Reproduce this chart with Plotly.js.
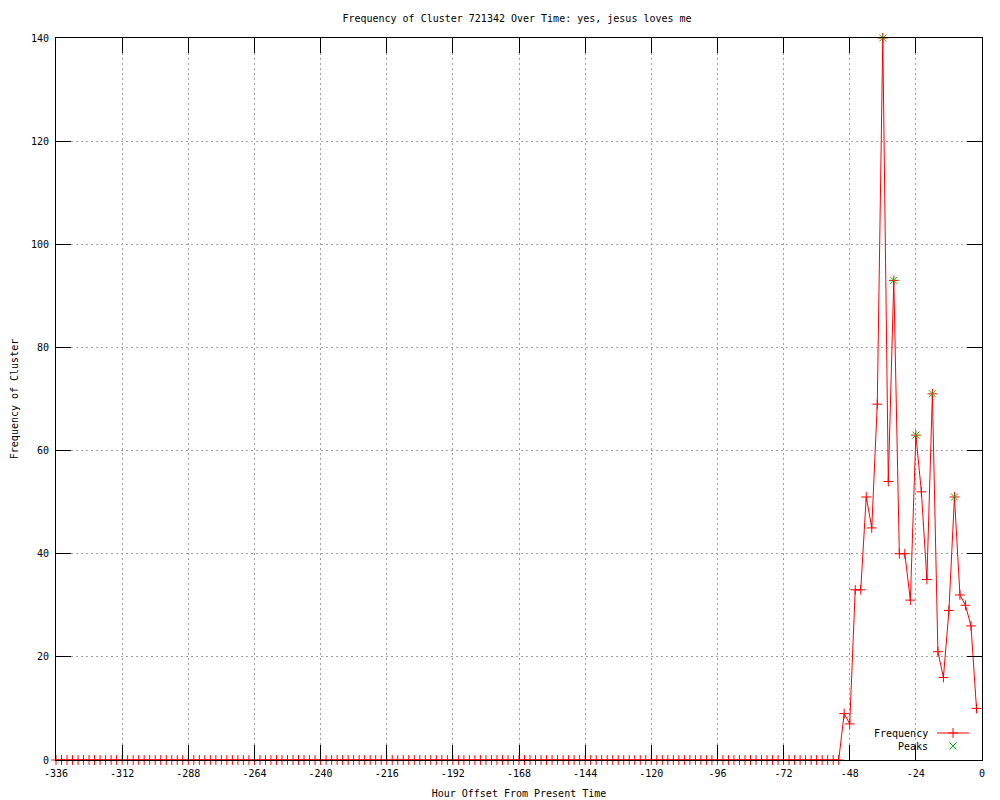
<!DOCTYPE html>
<html>
<head>
<meta charset="utf-8">
<script src="https://cdn.plot.ly/plotly-3.0.1.min.js"></script>
<style>
html,body{margin:0;padding:0;background:#fff;}
#chart{width:1000px;height:800px;}
</style>
</head>
<body>
<div id="chart"></div>
<script>
// Hour offsets (every 2 hours) and cluster frequency
var hours = [
 -336,-334,-332,-330,-328,-326,-324,-322,-320,-318,-316,-314,-312,-310,-308,-306,-304,-302,-300,-298,
 -296,-294,-292,-290,-288,-286,-284,-282,-280,-278,-276,-274,-272,-270,-268,-266,-264,-262,-260,-258,
 -256,-254,-252,-250,-248,-246,-244,-242,-240,-238,-236,-234,-232,-230,-228,-226,-224,-222,-220,-218,
 -216,-214,-212,-210,-208,-206,-204,-202,-200,-198,-196,-194,-192,-190,-188,-186,-184,-182,-180,-178,
 -176,-174,-172,-170,-168,-166,-164,-162,-160,-158,-156,-154,-152,-150,-148,-146,-144,-142,-140,-138,
 -136,-134,-132,-130,-128,-126,-124,-122,-120,-118,-116,-114,-112,-110,-108,-106,-104,-102,-100,-98,
 -96,-94,-92,-90,-88,-86,-84,-82,-80,-78,-76,-74,-72,-70,-68,-66,-64,-62,-60,-58,
 -56,-54,-52,-50,-48,-46,-44,-42,-40,-38,-36,-34,-32,-30,-28,-26,-24,-22,-20,-18,
 -16,-14,-12,-10,-8,-6,-4,-2
];
var frequency = [
 0,0,0,0,0,0,0,0,0,0,0,0,0,0,0,0,0,0,0,0,
 0,0,0,0,0,0,0,0,0,0,0,0,0,0,0,0,0,0,0,0,
 0,0,0,0,0,0,0,0,0,0,0,0,0,0,0,0,0,0,0,0,
 0,0,0,0,0,0,0,0,0,0,0,0,0,0,0,0,0,0,0,0,
 0,0,0,0,0,0,0,0,0,0,0,0,0,0,0,0,0,0,0,0,
 0,0,0,0,0,0,0,0,0,0,0,0,0,0,0,0,0,0,0,0,
 0,0,0,0,0,0,0,0,0,0,0,0,0,0,0,0,0,0,0,0,
 0,0,0,9,7,33,33,51,45,69,140,54,93,40,40,31,63,52,35,71,
 21,16,29,51,32,30,26,10
];
var peakHours = [-36,-32,-24,-18,-10];
var peakValues = [140,93,63,71,51];
var xTicks = [-336,-312,-288,-264,-240,-216,-192,-168,-144,-120,-96,-72,-48,-24,0];
var yTicks = [0,20,40,60,80,100,120,140];

var FONT = 'DejaVu Sans Mono, Liberation Mono, monospace';
var RED = '#ff0000';
var GREEN = '#00c000';

var traces = [
  {
    x: hours, y: frequency, type: 'scatter', mode: 'lines+markers', name: 'Frequency',
    line: {color: RED, width: 1},
    marker: {symbol: 'cross-thin-open', size: 7, color: RED, line: {color: RED, width: 1}},
    cliponaxis: false, showlegend: false, hoverinfo: 'x+y'
  },
  {
    x: peakHours, y: peakValues, type: 'scatter', mode: 'markers', name: 'Peaks',
    marker: {symbol: 'x-thin-open', size: 7, color: GREEN, line: {color: GREEN, width: 1}},
    cliponaxis: false, showlegend: false, hoverinfo: 'x+y'
  },
  // legend samples on an overlay pixel-like axis
  {
    x: [937, 969], y: [733, 733], xaxis: 'x2', yaxis: 'y2', type: 'scatter', mode: 'lines',
    line: {color: RED, width: 1}, showlegend: false, hoverinfo: 'skip', cliponaxis: false
  },
  {
    x: [953], y: [733], xaxis: 'x2', yaxis: 'y2', type: 'scatter', mode: 'markers',
    marker: {symbol: 'cross-thin-open', size: 7, color: RED, line: {color: RED, width: 1}},
    showlegend: false, hoverinfo: 'skip', cliponaxis: false
  },
  {
    x: [953], y: [746], xaxis: 'x2', yaxis: 'y2', type: 'scatter', mode: 'markers',
    marker: {symbol: 'x-thin-open', size: 7, color: GREEN, line: {color: GREEN, width: 1}},
    showlegend: false, hoverinfo: 'skip', cliponaxis: false
  }
];

var axisCommon = {
  showline: true, linecolor: '#000', linewidth: 1, mirror: 'ticks',
  ticks: 'inside', ticklen: 15, tickcolor: '#000', tickwidth: 1,
  showgrid: true, gridcolor: '#a0a0a0', gridwidth: 1, griddash: '2px,3px',
  zeroline: false, layer: 'above traces',
  tickfont: {family: FONT, size: 10, color: '#000'}
};

var layout = {
  width: 1000, height: 800,
  margin: {l: 56, r: 18, t: 38, b: 40, pad: 0},
  paper_bgcolor: '#fff', plot_bgcolor: '#fff',
  font: {family: FONT, size: 10, color: '#000'},
  title: {text: 'Frequency of Cluster 721342 Over Time: yes, jesus loves me',
          font: {family: FONT, size: 10, color: '#000'},
          x: 0.517, xref: 'container', xanchor: 'center',
          y: 1 - 18/800, yref: 'container', yanchor: 'middle'},
  xaxis: Object.assign({}, axisCommon, {
    range: [-336, 0], tickmode: 'array', tickvals: xTicks, ticktext: xTicks.map(String),
    ticklabelstandoff: 4,
    title: {text: 'Hour Offset From Present Time', font: {family: FONT, size: 10, color: '#000'}, standoff: 11}
  }),
  yaxis: Object.assign({}, axisCommon, {
    range: [0, 140], tickmode: 'array', tickvals: yTicks, ticktext: yTicks.map(String),
    ticklabelstandoff: 4,
    title: {text: 'Frequency of Cluster', font: {family: FONT, size: 10, color: '#000'}, standoff: 10}
  }),
  xaxis2: {overlaying: 'x', range: [56, 982], visible: false, fixedrange: true},
  yaxis2: {overlaying: 'y', range: [760, 38], visible: false, fixedrange: true},
  annotations: [
    {xref: 'x2', yref: 'y2', x: 930, y: 733, text: 'Frequency', showarrow: false,
     xanchor: 'right', yanchor: 'middle', font: {family: FONT, size: 10, color: '#000'}},
    {xref: 'x2', yref: 'y2', x: 930, y: 746, text: 'Peaks', showarrow: false,
     xanchor: 'right', yanchor: 'middle', font: {family: FONT, size: 10, color: '#000'}}
  ],
  showlegend: false
};

Plotly.newPlot('chart', traces, layout, {displayModeBar: false, staticPlot: true});
</script>
</body>
</html>
